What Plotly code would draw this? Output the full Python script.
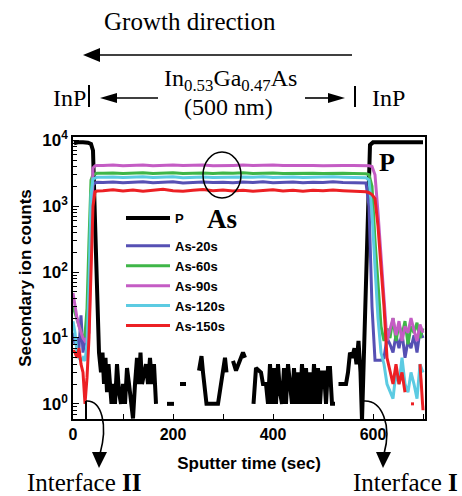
import plotly.graph_objects as go

# sputter time grid for the As traces (sec)
t_as = [0, 4, 8, 12, 16, 20, 24, 28, 32, 36, 40, 44, 48,
        60, 80, 100, 120, 140, 160, 180, 200, 220, 240, 260, 280, 300, 320,
        340, 360, 380, 400, 420, 440, 460, 480, 500, 520, 540, 560, 580,
        586, 592, 598, 604, 610, 616, 622, 628, 634, 640, 646, 652, 658, 664,
        670, 676, 682, 688, 694, 700]

as_20 = [12, 8, 10, 7, 22, 6, 9, 12, 40, 600, 2100, 2250, 2300,
         2280, 2330, 2260, 2310, 2350, 2270, 2300, 2340, 2250, 2290, 2330, 2280, 2310, 2260,
         2320, 2290, 2340, 2270, 2300, 2330, 2260, 2310, 2280, 2340, 2290, 2270, 2300,
         2250, 1000, 30, 4.6, 4.6, 4.6, 5, 10, 8, 6, 11, 7, 12, 5, 9, 7, 11, 6, 13, 10]
as_60 = [30, 24, 19, 15, 12, 10, 11, 28, 300, 2500, 3000, 3100, 3150,
         3150, 3200, 3120, 3180, 3220, 3140, 3170, 3210, 3130, 3160, 3190, 3120, 3180, 3150,
         3210, 3140, 3170, 3200, 3130, 3160, 3190, 3150, 3120, 3180, 3160, 3140, 3170,
         3100, 3000, 2000, 300, 60, 15, 9, 14, 10, 20, 9, 16, 11, 18, 8, 15, 12, 17, 10, 14]
as_90 = [48, 30, 20, 15, 12, 10, 9, 10, 12, 200, 3800, 4100, 4150,
         4150, 4200, 4100, 4180, 4230, 4120, 4160, 4210, 4130, 4170, 4220, 4110, 4180, 4150,
         4200, 4130, 4170, 4220, 4140, 4160, 4200, 4150, 4120, 4180, 4160, 4130, 4170,
         4150, 4100, 4000, 3000, 800, 150, 40, 9, 14, 20, 11, 18, 9, 15, 12, 20, 13, 9, 16, 12]
as_120 = [18, 12, 6, 5, 4.5, 5, 4.5, 8, 60, 1500, 2600, 2700, 2750,
          2740, 2780, 2720, 2760, 2800, 2730, 2750, 2790, 2710, 2750, 2780, 2730, 2760, 2720,
          2770, 2740, 2790, 2730, 2750, 2780, 2720, 2760, 2740, 2790, 2750, 2730, 2750,
          2700, 2500, 800, 120, 20, 6, 4, 2, 1.5, 1.2, 3, 2, 5, 2, 1.5, 3, 2, 1.2, 4, 3]
as_150 = [6.5, 6, 5, 7, 4, 3, 1.0, 2.5, 10, 100, 1000, 1650, 1700,
          1720, 1780, 1700, 1760, 1690, 1750, 1800, 1720, 1680, 1740, 1790, 1710, 1760, 1700,
          1740, 1680, 1720, 1770, 1700, 1750, 1690, 1740, 1710, 1760, 1720, 1700, 1680,
          1650, 1600, 1500, 1300, 500, 120, 30, 5, 3, 2, 4, 2, 3, 1.5, None, 1, 1, None, 4, 0.8]

# P signal (None = zero counts, no point on a log axis)
t_p = [2, 10, 20, 30, 36, 40, 44, 48, 52,
       56, 59, 62, 65, 68, 71, 74, 77, 80, 84,
       88, 92, 96, 100, 104, 108, 112, 116, 120, 124,
       128, 132, 135, 138, 142, 146, 150, 154, 158, 162,
       166, 170, 188, 202, 205, 214, 226, 229,
       252, 257, 260, 267, 290, 304, 307, 312,
       320, 326, 340, 344, 350, 361, 366, 376, 380, 386,
       390, 394, 398, 402, 406, 410, 414, 418, 422, 426,
       430, 434, 438, 442, 446, 450, 454, 458, 462, 466,
       470, 474, 478, 482, 486, 490, 494, 498, 502, 506,
       510, 514, 518, 524, 527, 531, 546, 550, 554, 558,
       563, 567, 571, 575, 578, 594, 600, 650, 700]
v_p = [9000, 9300, 9300, 9200, 8800, 7000, 600, 40, 6,
       3, 6, 2, 5, 1.5, 4, 2, 1, 2, 1,
       4, 1.5, 1, 2, 1, 3.5, 2, 1, 0.6, 2,
       5, 2, 6, 2, 3, 4, 2, 5, 2, 4,
       1, None, 1, 1, None, 2, 2, None,
       3.2, 5.3, 3, 1, 1, 5, 3, None,
       4.5, 3.2, 6, 5, None, 1, 3.5, 3, 2, 2,
       1, 4, 1, 3.5, 1, 4, 1.5, 1, 3.5, 1,
       4, 2, 1, 3.5, 1, 3, 1, 4, 1, 3.5,
       1, 3, 1, 4, 1, 3.5, 1, 3, 3, 1,
       3.5, 3.5, 1, 1, None, 2, 2, 3, 6, 5,
       7, 4, 9, 3, 0.55, 8500, 9300, 9300, 9300]

as_names = ['As-20s', 'As-60s', 'As-90s', 'As-120s', 'As-150s']
as_series = [as_20, as_60, as_90, as_120, as_150]
as_colors = ['#5650b4', '#3fb648', '#c45cc4', '#5ccbe2', '#ec2024']

y_tickvals = [1, 10, 100, 1000, 10000]
y_ticktext = ['10<sup>0</sup>', '10<sup>1</sup>', '10<sup>2</sup>', '10<sup>3</sup>', '10<sup>4</sup>']
x_tickvals = [0, 200, 400, 600]
x_ticktext = ['0', '200', '400', '600']

# plot area in pixels: left 73, right 425, top 137, bottom 419
def px(x):
    return (x - 73) / 352

def py(y):
    return (419 - y) / 282

def path(pts, close=False):
    s = 'M ' + ' L '.join('%.4f,%.4f' % (px(a), py(b)) for a, b in pts)
    return s + (' Z' if close else '')

serif = 'Liberation Serif'
sans = 'Liberation Sans'

fig = go.Figure()
fig.add_trace(go.Scatter(x=t_p, y=v_p, name='P', mode='lines', legendgroup='p',
                         line=dict(color='black', width=4), connectgaps=False))
for name, vals, col in zip(as_names, as_series, as_colors):
    fig.add_trace(go.Scatter(x=t_as, y=vals, name=name, mode='lines', legendgroup='as',
                             line=dict(color=col, width=3), connectgaps=False))

shapes = []
black_line = dict(color='black', width=1.6)
# growth direction arrow
shapes.append(dict(type='path', path=path([(352, 55), (98, 55)]), line=black_line))
shapes.append(dict(type='path', path=path([(83, 55), (100, 48), (100, 62)], True),
                   fillcolor='black', line=dict(width=0)))
# layer arrows
shapes.append(dict(type='path', path=path([(158, 98), (115, 98)]), line=black_line))
shapes.append(dict(type='path', path=path([(100, 98), (117, 93), (117, 103)], True),
                   fillcolor='black', line=dict(width=0)))
shapes.append(dict(type='path', path=path([(305, 98), (330, 98)]), line=black_line))
shapes.append(dict(type='path', path=path([(345, 98), (328, 93), (328, 103)], True),
                   fillcolor='black', line=dict(width=0)))
shapes.append(dict(type='path', path=path([(89, 85), (89, 107)]), line=dict(color='black', width=2)))
shapes.append(dict(type='path', path=path([(355, 86), (355, 107)]), line=dict(color='black', width=2)))
# ellipse around As plateaus
shapes.append(dict(type='circle', xref='paper', yref='paper', x0=px(203), x1=px(241),
                   y0=py(198), y1=py(152), line=dict(color='black', width=1.5)))
# interface arrows
def curve(p0, c1, c2, p1):
    return 'M %.4f,%.4f C %.4f,%.4f %.4f,%.4f %.4f,%.4f' % (
        px(p0[0]), py(p0[1]), px(c1[0]), py(c1[1]), px(c2[0]), py(c2[1]), px(p1[0]), py(p1[1]))

shapes.append(dict(type='path', path=path([(86, 419), (86, 401)]), line=dict(color='black', width=2)))
shapes.append(dict(type='path', path=curve((86, 401), (102, 400), (108, 425), (100, 454)),
                   line=dict(color='black', width=1.6)))
shapes.append(dict(type='path', path=path([(99, 468), (92, 452), (107, 452)], True),
                   fillcolor='black', line=dict(width=0)))
shapes.append(dict(type='path', path=curve((364, 401), (382, 400), (392, 425), (384, 454)),
                   line=dict(color='black', width=1.6)))
shapes.append(dict(type='path', path=path([(383, 468), (376, 452), (391, 452)], True),
                   fillcolor='black', line=dict(width=0)))
for s in shapes:
    s.setdefault('xref', 'paper')
    s.setdefault('yref', 'paper')
    s['layer'] = 'above'

def note(text, x, y, size, font=serif):
    return dict(text=text, x=px(x), y=py(y), xref='paper', yref='paper', showarrow=False,
                xanchor='center', yanchor='middle', font=dict(family=font, size=size, color='black'))

annotations = [
    note('Growth direction', 190, 21, 25),
    note('In<sub>0.53</sub>Ga<sub>0.47</sub>As', 230, 80, 24),
    note('(500 nm)', 228, 107, 24),
    note('InP', 69, 98, 24),
    note('InP', 388, 98, 24),
    note('<b>As</b>', 222, 219, 27),
    note('<b>P</b>', 387, 162, 26),
    note('Interface <b>II</b>', 84, 483, 25),
    note('Interface <b>I</b>', 405, 483, 25),
]

fig.update_layout(
    width=462, height=496,
    margin=dict(l=73, r=37, t=137, b=77),
    plot_bgcolor='white', paper_bgcolor='white',
    shapes=shapes, annotations=annotations,
    legend=dict(x=px(121), y=py(203), xanchor='left', yanchor='top',
                bgcolor='rgba(0,0,0,0)', traceorder='grouped', tracegroupgap=8,
                itemwidth=44,
                font=dict(family=sans, size=13, color='black', weight='bold')),
)
fig.update_xaxes(range=[0, 704], tickvals=x_tickvals, ticktext=x_ticktext,
                 ticks='inside', ticklen=5, tickcolor='black',
                 minor=dict(dtick=100, ticks='inside', ticklen=5, tickcolor='black'),
                 showline=True, mirror=True, linecolor='black', linewidth=1.5,
                 showgrid=False, zeroline=False, automargin=False,
                 tickfont=dict(family=sans, size=16, color='black', weight='bold'),
                 title=dict(text='Sputter time (sec)', standoff=15,
                            font=dict(family=sans, size=17, color='black', weight='bold')))
fig.update_yaxes(type='log', range=[-0.23, 4.05], tickvals=y_tickvals, ticktext=y_ticktext,
                 ticks='inside', ticklen=6, tickcolor='black',
                 minor=dict(dtick='D1', ticks='inside', ticklen=4, tickcolor='black'),
                 showline=True, mirror=True, linecolor='black', linewidth=1.5,
                 showgrid=False, zeroline=False, automargin=False,
                 tickfont=dict(family=sans, size=17, color='black', weight='bold'),
                 title=dict(text='Secondary ion counts', standoff=6,
                            font=dict(family=sans, size=17, color='black', weight='bold')))

# the page's default 8px body margin would shift the chart
fig.write_html('out.html', config={'displayModeBar': False},
               post_script="document.body.style.margin='0';")
